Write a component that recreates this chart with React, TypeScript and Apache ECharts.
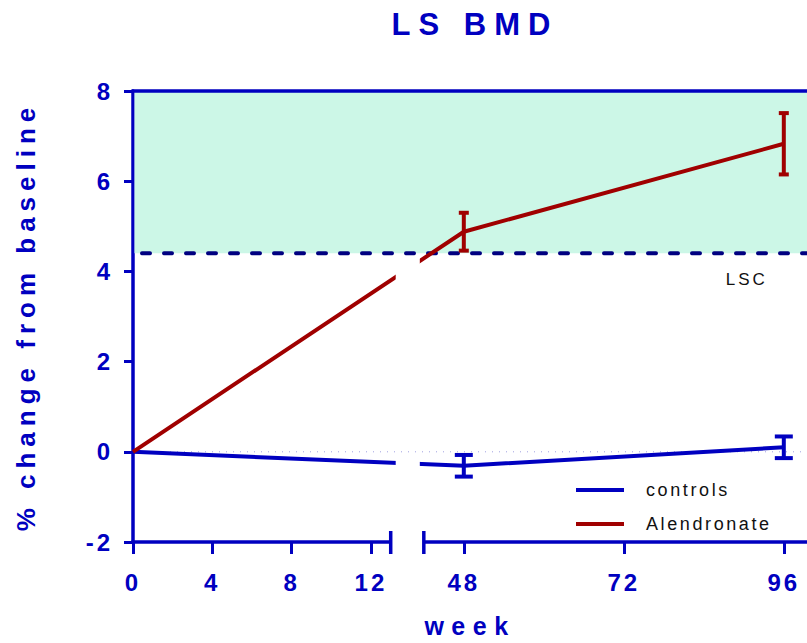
import React, { useEffect, useRef } from "react";
import * as echarts from "echarts";

// Study visits (weeks) and mean % change in lumbar-spine BMD with error bars
const weeks = [0, 48, 96];
const controlsMean = [0, -0.31, 0.1];
const controlsErr = [0, 0.24, 0.24];
const alendronateMean = [0, 4.88, 6.83];
const alendronateErr = [0, 0.42, 0.68];

// Axis ticks in weeks, y range and least significant change threshold
const tickWeeks = [0, 4, 8, 12, 48, 72, 96];
const Y_MIN = -2;
const Y_MAX = 8;
const Y_STEP = 2;
const LSC = 4.4;

// Broken x axis: weeks 0-13 at full scale, then weeks 42+ compressed
const PRE_BREAK = 13;
const POST_BREAK = 42;
const POST_OFFSET = 14.67;
const LATE_SCALE = 0.3363;
const X_MAX = 34;
const toAxis = (w: number) =>
  w <= PRE_BREAK ? w : POST_OFFSET + (w - POST_BREAK) * LATE_SCALE;

const BLUE = "#0000c0";
const RED = "#a00000";
const NAVY = "#000080";
const MINT = "#ccf7e7";
const FONT = "'Liberation Sans', Arial, Helvetica, sans-serif";

const tickAxisValues = tickWeeks.map(toAxis);

// Letter-spaced lettering, keyed by font size
const css = `
.lsbmd text[style*="31px"]{letter-spacing:8px}
.lsbmd text[style*="26px"]{letter-spacing:6px}
.lsbmd text[style*="25px"]{letter-spacing:7.5px}
.lsbmd text[style*="24px"]{letter-spacing:3px}
.lsbmd text[style*="18px"]{letter-spacing:2.6px}
.lsbmd text[style*="17px"]{letter-spacing:3px}
`;

function errorBars(means: number[], errs: number[]) {
  return weeks
    .map((w, i) => [toAxis(w), means[i], errs[i]])
    .filter((d) => d[2] > 0);
}

function errorBarRenderer(color: string, capHalf: number) {
  return (_params: any, api: any) => {
    const x = api.value(0);
    const m = api.value(1);
    const e = api.value(2);
    const top = api.coord([x, m + e]);
    const bot = api.coord([x, m - e]);
    const st = { stroke: color, lineWidth: 4 };
    return {
      type: "group",
      children: [
        { type: "line", shape: { x1: top[0], y1: top[1], x2: bot[0], y2: bot[1] }, style: st },
        { type: "line", shape: { x1: top[0] - capHalf, y1: top[1], x2: top[0] + capHalf, y2: top[1] }, style: st },
        { type: "line", shape: { x1: bot[0] - capHalf, y1: bot[1], x2: bot[0] + capHalf, y2: bot[1] }, style: st },
      ],
    };
  };
}

export default function App() {
  const ref = useRef<HTMLDivElement>(null);

  useEffect(() => {
    if (!ref.current) return;
    const chart = echarts.init(ref.current, undefined, { renderer: "svg" });

    const option: any = {
      animation: false,
      backgroundColor: "#ffffff",
      title: {
        text: "LS BMD",
        left: 470,
        top: 4,
        textAlign: "center",
        textStyle: { color: BLUE, fontSize: 31, fontWeight: "bold", fontFamily: FONT },
      },
      grid: { left: 133, right: 0, top: 91, bottom: 99 },
      legend: {
        data: [
          { name: "controls", icon: "rect" },
          { name: "Alendronate", icon: "rect" },
        ],
        orient: "vertical",
        left: 571,
        top: 476,
        itemWidth: 48,
        itemHeight: 4,
        itemGap: 16,
        textStyle: { fontSize: 18, color: "#111111", fontFamily: FONT, padding: [0, 0, 0, 17] },
      },
      xAxis: {
        type: "value",
        min: 0,
        max: X_MAX,
        name: "week",
        nameLocation: "middle",
        nameGap: 71,
        nameTextStyle: { color: BLUE, fontSize: 25, fontWeight: "bold", fontFamily: FONT },
        splitLine: { show: false },
        axisLine: { show: false, onZero: false },
        axisTick: {
          show: true,
          length: 12,
          customValues: tickAxisValues,
          lineStyle: { color: BLUE, width: 3 },
        },
        axisLabel: {
          customValues: tickAxisValues,
          margin: 28,
          color: BLUE,
          fontSize: 24,
          fontWeight: "bold",
          fontFamily: FONT,
          formatter: (v: number) => {
            const i = tickAxisValues.findIndex((t) => Math.abs(t - v) < 1e-6);
            return i >= 0 ? String(tickWeeks[i]) : "";
          },
        },
      },
      yAxis: {
        type: "value",
        min: Y_MIN,
        max: Y_MAX,
        interval: Y_STEP,
        name: "% change from baseline",
        nameLocation: "middle",
        nameGap: 94,
        nameTextStyle: { color: BLUE, fontSize: 26, fontWeight: "bold", fontFamily: FONT },
        splitLine: { show: false },
        axisLine: { show: true, onZero: false, lineStyle: { color: BLUE, width: 3.5 } },
        axisTick: { show: true, length: 9, lineStyle: { color: BLUE, width: 3 } },
        axisLabel: { margin: 20, color: BLUE, fontSize: 24, fontWeight: "bold", fontFamily: FONT },
      },
      series: [
        {
          // LSC band, its threshold line, the top border and the zero reference
          type: "custom",
          coordinateSystem: "cartesian2d",
          silent: true,
          z: 1,
          data: [[0, 0]],
          renderItem: (_p: any, api: any) => {
            const [x0, yTop] = api.coord([0, Y_MAX]);
            const [xR, yL] = api.coord([X_MAX, LSC]);
            const [, y0] = api.coord([0, 0]);
            const lab = api.coord([toAxis(96), LSC]);
            return {
              type: "group",
              children: [
                { type: "rect", shape: { x: x0 + 1.5, y: yTop, width: xR - x0, height: yL - yTop }, style: { fill: MINT } },
                { type: "line", shape: { x1: x0 + 2, y1: y0, x2: xR, y2: y0 }, style: { stroke: "#a0a0e0", lineWidth: 1, lineDash: [1, 6] } },
                { type: "line", shape: { x1: x0 + 9, y1: yL, x2: xR, y2: yL }, style: { stroke: NAVY, lineWidth: 4, lineDash: [8, 14], lineCap: "round" } },
                { type: "line", shape: { x1: x0 - 1.5, y1: yTop, x2: xR, y2: yTop }, style: { stroke: BLUE, lineWidth: 3.5 } },
                {
                  type: "text",
                  x: lab[0] - 37,
                  y: yL + 26,
                  style: { text: "LSC", fill: "#111111", fontSize: 17, fontFamily: FONT, align: "center", verticalAlign: "middle" },
                },
              ],
            };
          },
        },
        {
          name: "controls",
          type: "line",
          z: 3,
          showSymbol: false,
          color: BLUE,
          itemStyle: { color: BLUE },
          lineStyle: { color: BLUE, width: 4 },
          data: weeks.map((w, i) => [toAxis(w), controlsMean[i]]),
        },
        {
          name: "Alendronate",
          type: "line",
          z: 3,
          showSymbol: false,
          color: RED,
          itemStyle: { color: RED },
          lineStyle: { color: RED, width: 4 },
          data: weeks.map((w, i) => [toAxis(w), alendronateMean[i]]),
        },
        {
          // axis break: gap in the data lines, split x axis line and break marks
          type: "custom",
          coordinateSystem: "cartesian2d",
          silent: true,
          z: 4,
          data: [[0, 0]],
          renderItem: (_p: any, api: any) => {
            const [xa, yAx] = api.coord([0, Y_MIN]);
            const [xb1] = api.coord([toAxis(PRE_BREAK), 0]);
            const [xb2] = api.coord([toAxis(POST_BREAK), 0]);
            const [xEnd] = api.coord([X_MAX, 0]);
            const [, y0] = api.coord([0, 0]);
            const [, yMaskTop] = api.coord([0, LSC - 0.1]);
            const mx1 = xb1 + 5;
            const mx2 = xb2 - 4;
            const axisStyle = { stroke: BLUE, lineWidth: 3.5 };
            return {
              type: "group",
              children: [
                { type: "rect", shape: { x: mx1, y: yMaskTop, width: mx2 - mx1, height: y0 - 1.5 - yMaskTop }, style: { fill: "#ffffff" } },
                { type: "rect", shape: { x: mx1, y: y0 + 1.5, width: mx2 - mx1, height: yAx - 3 - y0 }, style: { fill: "#ffffff" } },
                { type: "line", shape: { x1: xa - 1.5, y1: yAx, x2: xb1, y2: yAx }, style: axisStyle },
                { type: "line", shape: { x1: xb2, y1: yAx, x2: xEnd, y2: yAx }, style: axisStyle },
                { type: "line", shape: { x1: xb1, y1: yAx - 11, x2: xb1, y2: yAx + 12 }, style: axisStyle },
                { type: "line", shape: { x1: xb2, y1: yAx - 11, x2: xb2, y2: yAx + 12 }, style: axisStyle },
              ],
            };
          },
        },
        {
          type: "custom",
          coordinateSystem: "cartesian2d",
          silent: true,
          z: 5,
          data: errorBars(controlsMean, controlsErr),
          renderItem: errorBarRenderer(BLUE, 9),
        },
        {
          type: "custom",
          coordinateSystem: "cartesian2d",
          silent: true,
          z: 5,
          data: errorBars(alendronateMean, alendronateErr),
          renderItem: errorBarRenderer(RED, 5),
        },
      ],
    };

    chart.setOption(option);
    return () => chart.dispose();
  }, []);

  return (
    <>
      <style>{css}</style>
      <div
        className="lsbmd"
        ref={ref}
        style={{ position: "absolute", left: 0, top: 0, width: 807, height: 643 }}
      />
    </>
  );
}
